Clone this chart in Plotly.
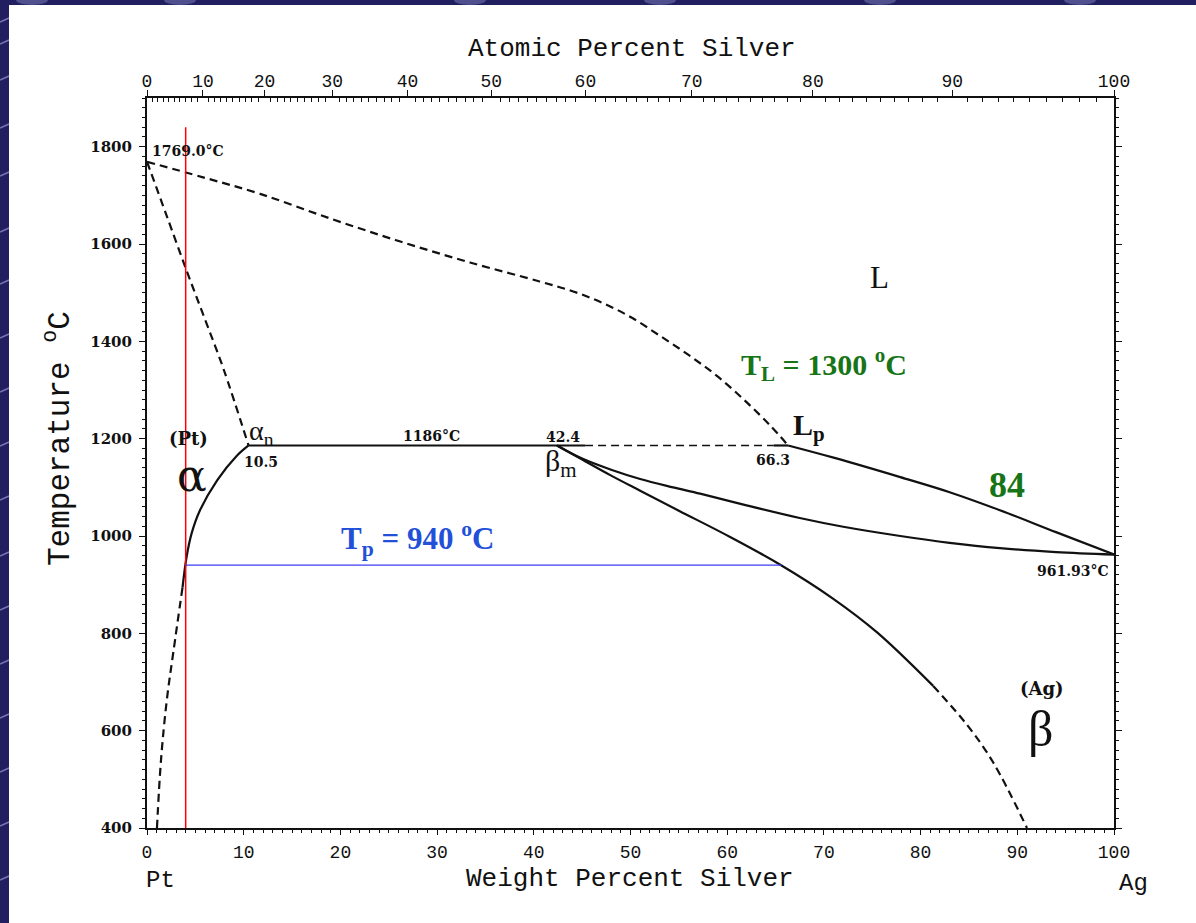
import plotly.graph_objects as go

# Pt-Ag binary phase diagram (weight percent silver vs temperature)

M_AG, M_PT = 107.87, 195.08

# liquidus, Pt side (dashed)
liq_wt = [0, 5.8, 11.7, 19, 26.2, 33.4, 40.6, 44, 47, 50, 53, 56, 59, 62, 64.5, 66.3]
liq_t = [1769, 1737, 1703, 1652, 1605, 1562, 1523, 1503, 1480, 1450, 1412, 1372, 1328,
         1275, 1226, 1186]

# solidus of alpha (Pt) (dashed)
sol_a_wt = [0, 2, 4.1, 6, 7.9, 10.5]
sol_a_t = [1769, 1660, 1545, 1445, 1344, 1186]

# solvus of alpha (Pt)
solv_a_wt = [10.5, 9.2, 7.27, 5.48, 4.62, 4.10, 3.67]
solv_a_t = [1186, 1163, 1115, 1053, 1006, 958, 894]
solv_a_dash_wt = [3.67, 2.75, 2.05, 1.45, 1.03]
solv_a_dash_t = [894, 765, 663, 540, 400]

# peritectic isotherm
T_PERI = 1186
peri_solid_wt = [10.5, 45.3]
peri_dash_wt = [45.3, 64.8]
peri_end_wt = [64.8, 66.3]

# solidus of beta (Ag)
sol_b_wt = [42.4, 45, 48, 51, 54.4, 57.2, 62, 67.5, 72, 77.9, 83, 88.2, 94, 100]
sol_b_t = [1186, 1159, 1136, 1117, 1100, 1087, 1063, 1037, 1019, 1000, 986, 975, 967, 961.93]

# liquidus, Ag side
liq_b_wt = [66.3, 71, 77.9, 83, 88.2, 94, 100]
liq_b_t = [1186, 1161, 1121, 1090, 1053, 1008, 961.93]

# solvus of beta (Ag)
solv_b_wt = [42.4, 45, 48, 51, 55, 60.3, 65.4, 70.9, 75.5, 81.3]
solv_b_t = [1186, 1157, 1124, 1093, 1052, 998, 942, 872, 802, 692]
solv_b_dash_wt = [81.3, 84.8, 87.5, 91.0]
solv_b_dash_t = [692, 612, 535, 400]

# alloy composition and process temperature
alloy_wt = 4
alloy_t_range = [400, 1840]
T_P = 940
tp_wt = [4, 65.6]

# axis ticks
y_ticks = [400, 600, 800, 1000, 1200, 1400, 1600, 1800]
x_ticks = [0, 10, 20, 30, 40, 50, 60, 70, 80, 90, 100]
at_ticks = [0, 10, 20, 30, 40, 50, 60, 70, 80, 90, 100]


def at_to_wt(a):
    if a <= 0:
        return 0.0
    if a >= 100:
        return 100.0
    return 100.0 * a * M_AG / (a * M_AG + (100 - a) * M_PT)


BLACK = "#111111"
LW = 2.2
DASH = "8px,5px"

fig = go.Figure()


def curve(x, y, dashed=False, shape="spline", color=BLACK, width=LW):
    fig.add_trace(go.Scatter(
        x=x, y=y, mode="lines",
        line=dict(color=color, width=width, dash=DASH if dashed else "solid",
                  shape=shape, smoothing=1.0),
        hoverinfo="skip", showlegend=False))


curve(liq_wt, liq_t, dashed=True)
curve(sol_a_wt, sol_a_t, dashed=True)
curve(solv_a_wt, solv_a_t)
curve(solv_a_dash_wt, solv_a_dash_t, dashed=True)
curve(peri_solid_wt, [T_PERI] * 2, shape="linear")
curve(peri_dash_wt, [T_PERI] * 2, dashed=True, shape="linear", width=1.6)
curve(peri_end_wt, [T_PERI] * 2, shape="linear")
curve(sol_b_wt, sol_b_t)
curve(liq_b_wt, liq_b_t)
curve(solv_b_wt, solv_b_t)
curve(solv_b_dash_wt, solv_b_dash_t, dashed=True)
curve([alloy_wt, alloy_wt], alloy_t_range, shape="linear", color="#ff0000", width=1.5)
curve(tp_wt, [T_P, T_P], shape="linear", color="#3d3df5", width=1.2)

# carrier trace for the atomic-percent axis
fig.add_trace(go.Scatter(x=[0, 100], y=[1900, 1900], xaxis="x2", mode="lines",
                         line=dict(width=0), opacity=0, hoverinfo="skip",
                         showlegend=False))

W, H = 1196, 923
ML, MR, MT, MB = 147, 82, 98, 95
PW, PH = W - ML - MR, H - MT - MB


def px(x):
    return (x - ML) / PW


def py(y):
    return (H - MB - y) / PH


mono = "Liberation Mono"
serif = "Liberation Serif"
dserif = "DejaVu Serif"

at_major = [at_to_wt(a) for a in at_ticks]
at_minor = [at_to_wt(a) for a in range(1, 100) if a % 10 != 0]

fig.update_layout(
    width=W, height=H,
    margin=dict(l=ML, r=MR, t=MT, b=MB),
    paper_bgcolor="white", plot_bgcolor="white",
    showlegend=False,
    xaxis=dict(range=[0, 100], tickvals=x_ticks, showgrid=False, zeroline=False,
               showline=True, linecolor=BLACK, linewidth=2, mirror=False,
               ticks="outside", ticklen=5, tickwidth=1.2, tickcolor=BLACK,
               ticklabelstandoff=1,
               tickfont=dict(family=mono, size=18, color=BLACK),
               minor=dict(dtick=1, ticks="outside", ticklen=3, tickcolor=BLACK,
                          tickwidth=1)),
    xaxis2=dict(range=[0, 100], overlaying="x", side="top", tickmode="array",
                tickvals=at_major, ticktext=[str(a) for a in at_ticks],
                showgrid=False, zeroline=False, showline=True, linecolor=BLACK,
                linewidth=2, ticks="outside", ticklen=6, tickwidth=1.2,
                tickcolor=BLACK, ticklabelstandoff=-4,
                tickfont=dict(family=mono, size=18, color=BLACK),
                minor=dict(tickmode="array", tickvals=at_minor, ticks="inside",
                           ticklen=4, tickcolor=BLACK, tickwidth=1)),
    yaxis=dict(range=[400, 1900], tickvals=y_ticks, showgrid=False, zeroline=False,
               showline=True, linecolor=BLACK, linewidth=2, mirror="ticks",
               ticks="outside", ticklen=6, tickwidth=1.2, tickcolor=BLACK,
               ticklabelstandoff=4,
               tickfont=dict(family=dserif, size=15, color=BLACK, weight="bold"),
               minor=dict(dtick=20, tick0=400, ticks="outside", ticklen=3,
                          tickcolor=BLACK, tickwidth=1)),
)

ann = []


def label(x, y, text, size, family=serif, color=BLACK, xanchor="center",
          ref="data", angle=0):
    d = dict(x=x, y=y, text=text, showarrow=False, xanchor=xanchor,
             yanchor="middle", textangle=angle,
             font=dict(family=family, size=size, color=color))
    if ref == "paper":
        d.update(xref="paper", yref="paper")
    else:
        d.update(xref="x", yref="y")
    ann.append(d)


# phase and point labels
label(0.3, 1791, "<b>1769.0°C</b>", 14, family=dserif, xanchor="left")
label(10.3, 1213, "α<sub>n</sub>", 28, xanchor="left")
label(4.25, 1201, "<b>(Pt)</b>", 18, family=dserif)
label(4.65, 1124, "α", 44, family=dserif)
label(11.8, 1152, "<b>10.5</b>", 14, family=dserif)
label(29.4, 1205, "<b>1186°C</b>", 14, family=dserif)
label(43.0, 1203, "<b>42.4</b>", 14, family=dserif)
label(40.9, 1150, "β<sub>m</sub>", 30, xanchor="left")
label(64.7, 1156, "<b>66.3</b>", 14, family=dserif)
label(66.6, 1224, "<b>L<sub>p</sub></b>", 30, xanchor="left")
label(75.7, 1532, "L", 31)
label(69.96, 1353, "<b>T<sub>L</sub> = 1300 <sup>o</sup>C</b>", 30, color="#177517")
label(88.9, 1105, "<b>84</b>", 36, color="#177517")
label(28.0, 994, "<b>T<sub>p</sub> = 940 <sup>o</sup>C</b>", 31, color="#2250d8")
label(95.8, 928, "<b>961.93°C</b>", 14, family=dserif)
label(92.55, 686, "<b>(Ag)</b>", 18, family=dserif)
label(92.35, 604, "β", 50)

# axis titles and end-member labels
label(px(630), py(879), "Weight Percent Silver", 26, family=mono, ref="paper")
label(px(160), py(880), "Pt", 24, family=mono, ref="paper")
label(px(1133), py(884), "Ag", 24, family=mono, ref="paper")
label(px(632), py(49), "Atomic Percent Silver", 26, family=mono, ref="paper")
label(px(58), py(439), "Temperature <sup>o</sup>C", 31, family=mono, ref="paper",
      angle=-90)

fig.update_layout(annotations=ann)

# navy slide border along the top and left edges
NAVY = "#211f5f"
LIGHT = "rgba(150,150,205,0.75)"
shapes = [
    dict(type="rect", xref="paper", yref="paper", x0=px(0), x1=px(W),
         y0=py(5), y1=py(0), fillcolor=NAVY, line=dict(width=0), layer="above"),
    dict(type="rect", xref="paper", yref="paper", x0=px(0), x1=px(9),
         y0=py(H), y1=py(0), fillcolor=NAVY, line=dict(width=0), layer="above"),
]
for yy in [22, 44, 80, 128, 176, 232, 284, 338, 392, 446, 500, 556, 610, 664,
           718, 772, 826, 880]:
    shapes.append(dict(type="line", xref="paper", yref="paper", x0=px(0),
                       x1=px(9), y0=py(yy), y1=py(yy - 4),
                       line=dict(color=LIGHT, width=1.5), layer="above"))
for xc in [32, 180, 470, 660, 880, 1080]:
    shapes.append(dict(type="circle", xref="paper", yref="paper", x0=px(xc - 16),
                       x1=px(xc + 16), y0=py(5), y1=py(-5),
                       fillcolor="rgba(120,120,180,0.55)", line=dict(width=0),
                       layer="above"))
fig.update_layout(shapes=shapes)

fig.write_html("out.html")
